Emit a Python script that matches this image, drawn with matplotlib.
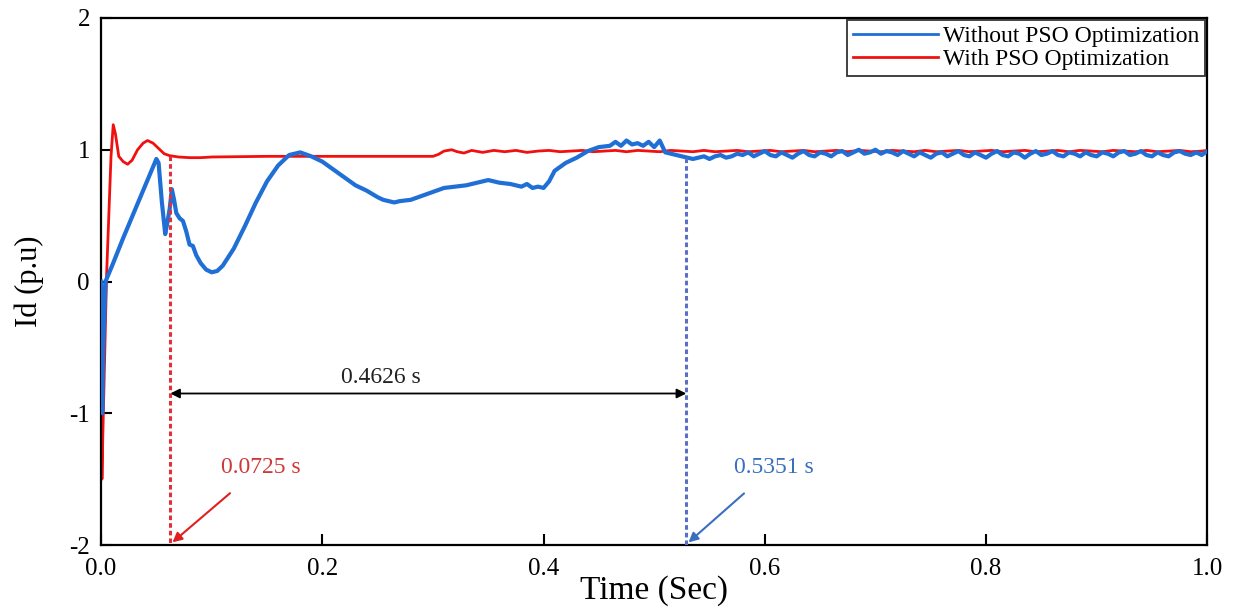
import matplotlib
matplotlib.use("Agg")
import matplotlib.pyplot as plt

plt.rcParams['font.family'] = ['Liberation Serif', 'DejaVu Serif']
plt.rcParams['axes.unicode_minus'] = False

# ---------------- data ----------------
blue_t = [0.000, 0.001, 0.002, 0.004, 0.010, 0.020, 0.030, 0.040, 0.050, 0.052,
          0.055, 0.058, 0.060, 0.062, 0.064, 0.066, 0.068, 0.071, 0.074, 0.077,
          0.080, 0.083, 0.086, 0.090, 0.095, 0.100, 0.105, 0.110, 0.120, 0.130,
          0.140, 0.150, 0.160, 0.170, 0.180, 0.190, 0.200, 0.210, 0.220, 0.230,
          0.240, 0.250, 0.255, 0.260, 0.265, 0.270, 0.280, 0.290, 0.300, 0.310,
          0.320, 0.330, 0.340, 0.350, 0.360, 0.370, 0.380, 0.385, 0.390, 0.395,
          0.400, 0.405, 0.410, 0.420, 0.430, 0.440, 0.450, 0.460, 0.465, 0.470,
          0.475, 0.480, 0.485, 0.490, 0.495, 0.500, 0.505, 0.510, 0.520, 0.530,
          0.535,
          0.540, 0.545, 0.550, 0.555, 0.560, 0.565, 0.570, 0.575, 0.580, 0.585,
          0.590, 0.595, 0.600, 0.605, 0.610, 0.615, 0.620, 0.625, 0.630, 0.635,
          0.640, 0.645, 0.650, 0.655, 0.660, 0.665, 0.670, 0.675, 0.680, 0.685,
          0.690, 0.695, 0.700, 0.705, 0.710, 0.715, 0.720, 0.725, 0.730, 0.735,
          0.740, 0.745, 0.750, 0.755, 0.760, 0.765, 0.770, 0.775, 0.780, 0.785,
          0.790, 0.795, 0.800, 0.805, 0.810, 0.815, 0.820, 0.825, 0.830, 0.835,
          0.840, 0.845, 0.850, 0.855, 0.860, 0.865, 0.870, 0.875, 0.880, 0.885,
          0.890, 0.895, 0.900, 0.905, 0.910, 0.915, 0.920, 0.925, 0.930, 0.935,
          0.940, 0.945, 0.950, 0.955, 0.960, 0.965, 0.970, 0.975, 0.980, 0.985,
          0.990, 0.995, 1.000]
blue_id = [0.00, -1.00, -0.50, 0.00, 0.12, 0.33, 0.53, 0.73, 0.93, 0.90,
           0.60, 0.36, 0.45, 0.55, 0.70, 0.62, 0.52, 0.48, 0.46, 0.38,
           0.28, 0.27, 0.20, 0.14, 0.09, 0.07, 0.08, 0.12, 0.25, 0.42,
           0.60, 0.76, 0.88, 0.96, 0.98, 0.95, 0.91, 0.85, 0.79, 0.73,
           0.69, 0.64, 0.62, 0.61, 0.60, 0.61, 0.62, 0.65, 0.68, 0.71,
           0.72, 0.73, 0.75, 0.77, 0.75, 0.74, 0.72, 0.74, 0.71, 0.72,
           0.71, 0.76, 0.84, 0.90, 0.94, 0.99, 1.02, 1.03, 1.06, 1.03,
           1.07, 1.04, 1.05, 1.03, 1.06, 1.02, 1.07, 0.98, 0.96, 0.94,
           0.93,
           0.94, 0.95, 0.93, 0.95, 0.96, 0.94, 0.95, 0.97, 0.96, 0.98,
           0.95, 0.97, 0.99, 0.96, 0.95, 0.98, 0.96, 0.94, 0.97, 0.99,
           0.96, 0.95, 0.98, 0.97, 0.95, 0.98, 0.99, 0.96, 0.98, 1.00,
           0.97, 0.98, 1.00, 0.97, 0.99, 0.98, 0.96, 0.99, 0.97, 0.95,
           0.98, 0.96, 0.94, 0.97, 0.98, 0.95, 0.97, 0.99, 0.96, 0.95,
           0.98, 0.96, 0.94, 0.97, 0.99, 0.96, 0.95, 0.98, 0.97, 0.94,
           0.97, 0.99, 0.96, 0.97, 0.99, 0.96, 0.95, 0.98, 0.97, 0.95,
           0.98, 0.96, 0.95, 0.98, 0.97, 0.95, 0.98, 0.99, 0.96, 0.97,
           0.99, 0.96, 0.95, 0.98, 0.96, 0.95, 0.98, 0.99, 0.97, 0.96,
           0.98, 0.96, 0.99]

red_t = [0.0000, 0.0008, 0.0015, 0.0050, 0.0090, 0.0110, 0.0130, 0.0160, 0.0200, 0.0240,
         0.0280, 0.0330, 0.0380, 0.0420, 0.0470, 0.0520, 0.0570, 0.0620, 0.0700, 0.0800,
         0.0900, 0.1000, 0.1500, 0.2000, 0.2500, 0.3000, 0.3050, 0.3100, 0.3170, 0.3220,
         0.3280,
         0.335, 0.345, 0.355, 0.365, 0.375, 0.385, 0.395, 0.405, 0.415, 0.425,
         0.435, 0.445, 0.455, 0.465, 0.475, 0.485, 0.495, 0.505, 0.515, 0.525,
         0.535, 0.545, 0.555, 0.565, 0.575, 0.585, 0.595, 0.605, 0.615, 0.625,
         0.635, 0.645, 0.655, 0.665, 0.675, 0.685, 0.695, 0.705, 0.715, 0.725,
         0.735, 0.745, 0.755, 0.765, 0.775, 0.785, 0.795, 0.805, 0.815, 0.825,
         0.835, 0.845, 0.855, 0.865, 0.875, 0.885, 0.895, 0.905, 0.915, 0.925,
         0.935, 0.945, 0.955, 0.965, 0.975, 0.985, 0.995, 1.000]
red_id = [0.00, -1.50, -1.20, 0.05, 0.95, 1.19, 1.12, 0.95, 0.91, 0.89,
          0.92, 1.00, 1.05, 1.07, 1.05, 1.01, 0.97, 0.955, 0.945, 0.94,
          0.94, 0.945, 0.95, 0.95, 0.95, 0.95, 0.965, 0.99, 1.00, 0.985,
          0.975,
          0.995, 0.98, 0.995, 0.985, 0.995, 0.98, 0.99, 0.995, 0.985, 0.99,
          0.995, 0.985, 0.99, 0.995, 0.985, 0.995, 0.99, 0.985, 0.995, 0.99,
          0.985, 0.995, 0.985, 0.99, 0.995, 0.985, 0.99, 0.995, 0.985, 0.99,
          0.995, 0.985, 0.99, 0.995, 0.985, 0.995, 0.99, 0.985, 0.995, 0.99,
          0.985, 0.995, 0.985, 0.99, 0.995, 0.985, 0.99, 0.995, 0.985, 0.99,
          0.995, 0.985, 0.99, 0.995, 0.985, 0.995, 0.99, 0.985, 0.995, 0.99,
          0.985, 0.995, 0.985, 0.99, 0.995, 0.985, 0.99, 0.995]

series_labels = ["Without PSO Optimization", "With PSO Optimization"]
x_ticks = [0.0, 0.2, 0.4, 0.6, 0.8, 1.0]
x_tick_labels = ["0.0", "0.2", "0.4", "0.6", "0.8", "1.0"]
y_ticks = [-2, -1, 0, 1, 2]
y_tick_labels = ["-2", "-1", "0", "1", "2"]

red_mark_x = 0.0625
blue_mark_x = 0.529
red_mark_top = 0.95
blue_mark_top = 0.94
red_mark_label = "0.0725 s"
blue_mark_label = "0.5351 s"
span_label = "0.4626 s"
span_y = -0.85

# ---------------- figure ----------------
BLUE = '#1f6fd6'
RED = '#f01010'
fig = plt.figure(figsize=(12.37, 6.08), dpi=100)
ax = fig.add_axes([0.0817, 0.1036, 0.8943, 0.8668])

ax.plot(blue_t, blue_id, color=BLUE, lw=3.0, label=series_labels[0], zorder=3)
ax.plot(red_t, red_id, color=RED, lw=2.0, label=series_labels[1], zorder=2)

ax.set_xlim(0, 1.0)
ax.set_ylim(-2, 2)
ax.set_xticks(x_ticks)
ax.set_xticklabels(x_tick_labels)
ax.set_yticks(y_ticks)
ax.set_yticklabels(y_tick_labels)
ax.tick_params(direction='in', length=8, width=1.5, labelsize=18)
ax.tick_params(axis='x', pad=9)
ax.tick_params(axis='y', pad=8)
for s in ax.spines.values():
    s.set_linewidth(1.6)

ax.set_xlabel("Time (Sec)", fontsize=24)
ax.xaxis.set_label_coords(0.5, -0.058)
ax.set_ylabel("Id (p.u)", fontsize=22)
ax.yaxis.set_label_coords(-0.052, 0.5)

# marker lines
ax.plot([red_mark_x, red_mark_x], [red_mark_top, -2], color='#e0303a', lw=2.2,
        ls=(0, (1.5, 1.0)), zorder=4)
ax.plot([blue_mark_x, blue_mark_x], [blue_mark_top, -2], color='#5b6fc4', lw=2.2,
        ls=(0, (1.5, 1.0)), zorder=4)

# span arrow
ax.annotate("", xy=(red_mark_x, span_y), xytext=(blue_mark_x, span_y),
            arrowprops=dict(arrowstyle='<|-|>', color='black', lw=1.3,
                            mutation_scale=14, shrinkA=0, shrinkB=0))
ax.text(0.253, span_y + 0.12, span_label,
        ha='center', va='center', fontsize=17, color='#222222')

# labelled arrows
ax.annotate(red_mark_label, xy=(red_mark_x + 0.002, -1.98), xytext=(0.144, -1.41),
            ha='center', va='center', fontsize=17, color='#d03838',
            arrowprops=dict(arrowstyle='-|>', color='#e02020', lw=1.5,
                            mutation_scale=14, shrinkA=14, shrinkB=0))
ax.annotate(blue_mark_label, xy=(blue_mark_x + 0.002, -1.98), xytext=(0.608, -1.41),
            ha='center', va='center', fontsize=17, color='#3a6fc0',
            arrowprops=dict(arrowstyle='-|>', color='#3a6fc0', lw=1.5,
                            mutation_scale=14, shrinkA=14, shrinkB=0))

leg = ax.legend(loc='upper right', bbox_to_anchor=(0.998, 0.997), fontsize=17,
                frameon=True, fancybox=False, edgecolor='black',
                handlelength=3.6, handletextpad=0.2, labelspacing=0.08,
                borderpad=0.25, borderaxespad=0.0)
leg.get_frame().set_linewidth(1.3)
for line in leg.get_lines():
    line.set_linewidth(2.0)

fig.savefig("out.png", dpi=100)
